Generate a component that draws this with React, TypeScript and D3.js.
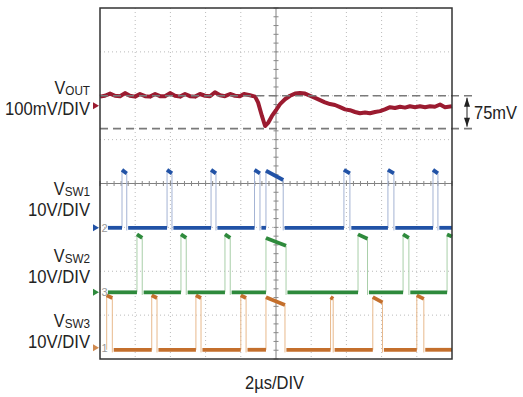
import * as d3 from "d3";

// scope grid: 10 DIV across at 2µs/DIV, 8 DIV tall
const TIME_US = [0, 20];
const DIVS = [-4, 4];

// channel ground markers, in DIV from centre
const VOUT_OFFSET = 1.77;
const SW1_OFFSET = -1.01;
const SW2_OFFSET = -2.48;
const SW3_OFFSET = -3.79;

// VOUT trace, [µs, mV] (100mV/DIV)
const VOUT = [
  [0, 21], [0.28, 23], [0.57, 28], [0.85, 23], [1.14, 22], [1.42, 29], [1.7, 23], [1.99, 21],
  [2.27, 27], [2.56, 22], [2.84, 21], [3.13, 27], [3.41, 22], [3.69, 22], [3.98, 29], [4.26, 23],
  [4.55, 21], [4.83, 27], [5.11, 22], [5.4, 21], [5.68, 27], [5.97, 23], [6.25, 22], [6.53, 31],
  [6.82, 24], [7.1, 22], [7.39, 27], [7.67, 23], [7.95, 22], [8.18, 27], [8.52, 24], [8.81, 21],
  [8.98, 8], [9.2, -23], [9.38, -46], [9.55, -39], [9.77, -23], [10.0, -10], [10.23, 4], [10.51, 15],
  [10.8, 23], [11.08, 28], [11.36, 29], [11.65, 28], [11.93, 23], [12.22, 18], [12.5, 13], [12.78, 8],
  [13.07, 4], [13.35, 2], [13.64, -3], [13.92, -8], [14.2, -10], [14.49, -14], [14.77, -17], [15.06, -15],
  [15.34, -17], [15.63, -14], [15.91, -12], [16.19, -8], [16.48, -3], [16.76, -5], [17.05, -2], [17.33, -4],
  [17.61, -1], [17.9, -3], [18.18, -1], [18.47, -3], [18.75, -1], [19.03, -2], [19.32, 3], [19.6, -3],
  [20, -1],
];
const VOUT_CURSORS = [23, -52]; // mV, 75mV apart

// switch node pulses: [rise µs, fall µs, V at rise, V at fall] (10V/DIV)
const SW1_PULSES = [
  [1.25, 1.52, 13.2, 12.4], [3.81, 4.09, 13.2, 12.4], [6.31, 6.59, 13.2, 12.4], [8.78, 9.09, 13.2, 12.4],
  [9.43, 10.41, 13, 10.9], [13.86, 14.2, 13.2, 12.4], [16.36, 16.7, 13.2, 12.4], [18.92, 19.2, 13.2, 12.4],
];
const SW2_PULSES = [
  [2.1, 2.4, 13.2, 12.4], [4.6, 4.9, 13.2, 12.4], [7.1, 7.4, 13.2, 12.4], [9.43, 10.57, 12.4, 10.6],
  [14.66, 15.2, 13.2, 12.2], [17.22, 17.55, 13.2, 12.4], [19.72, 20.2, 13.2, 12.4],
];
const SW3_PULSES = [
  [0.38, 0.7, 12.4, 11.8], [2.94, 3.24, 12.4, 11.8], [5.45, 5.74, 12.4, 11.8], [8.0, 8.3, 12.4, 11.8],
  [9.43, 10.51, 12, 10.2], [13.1, 13.25, 12, 11.6], [15.5, 16.05, 12, 10.8], [18.0, 18.4, 12.4, 11.6],
];
const TRACE_START_US = 0.45; // traces begin right of the channel number

const W = 523;
const H = 397;
const L = 100, T = 8, R = 452, B = 359;
const FONT = "'Liberation Sans Narrow', 'Liberation Sans', Arial, sans-serif";

const x = d3.scaleLinear().domain(TIME_US).range([L, R]);
const y = d3.scaleLinear().domain(DIVS).range([B, T]);
const yVout = (mv) => y(VOUT_OFFSET + mv / 100);

function Switch({ pulses, offset, color, edge }) {
  const yv = (v) => y(offset + v / 10);
  const lows = [];
  let t0 = TRACE_START_US;
  pulses.forEach((p) => {
    if (p[0] > t0) lows.push([t0, p[0]]);
    t0 = p[1] + 0.08;
  });
  if (t0 < 20) lows.push([t0, 20]);
  const clip = (t) => Math.max(0, Math.min(20, t));
  return (
    <g>
      {pulses.map((p, i) => (
        <g key={i}>
          <line x1={x(p[0])} x2={x(p[0])} y1={yv(0)} y2={yv(p[2])} stroke={edge} strokeWidth={1} />
          {p[1] <= 20 && (
            <line x1={x(p[1])} x2={x(p[1])} y1={yv(p[3])} y2={yv(-0.6)} stroke={edge} strokeWidth={1} />
          )}
          <line x1={x(clip(p[0]))} x2={x(clip(p[1]))} y1={yv(p[2])}
            y2={yv(p[1] > 20 ? p[2] + ((p[3] - p[2]) * (20 - p[0])) / (p[1] - p[0]) : p[3])}
            stroke={color} strokeWidth={3.8} />
        </g>
      ))}
      {lows.map((s, i) => (
        <line key={"l" + i} x1={x(s[0])} x2={x(s[1])} y1={yv(0)} y2={yv(0)} stroke={color} strokeWidth={3.8} />
      ))}
    </g>
  );
}

function Marker({ yPos, color, label }) {
  return (
    <g>
      <path d={`M93,${yPos - 3.5} L99,${yPos} L93,${yPos + 3.5} Z`} fill={color} />
      {label && (
        <text x={101.5} y={yPos + 4} fontSize={11} fill="#999" fontFamily={FONT}>{label}</text>
      )}
    </g>
  );
}

function Label({ sub, scale, yName, yScale, width }) {
  return (
    <g fontFamily={FONT} fill="#222" textAnchor="end">
      <g transform="translate(90,0) scale(0.9,1) translate(-90,0)">
        <text x={90} y={yName} fontSize={18}>
          V<tspan fontSize={13} dy={1}>{sub}</tspan>
        </text>
      </g>
      <text x={90} y={yScale} fontSize={18} textLength={width} lengthAdjust="spacingAndGlyphs">{scale}</text>
    </g>
  );
}

export default function App() {
  const vx = d3.range(1, 10).map((i) => x(i * 2));
  const hy = d3.range(-3, 4).map((i) => y(i));
  const minorX = d3.range(0, 50.01).map((i) => x(i * 0.4));
  const minorY = d3.range(-20, 20.01).map((i) => y(i * 0.2));
  const line = d3.line().x((d) => x(d[0])).y((d) => yVout(d[1]));
  const ay1 = yVout(VOUT_CURSORS[0]);
  const ay2 = yVout(VOUT_CURSORS[1]);
  const ax = 467;

  return (
    <svg width={W} height={H} style={{ position: "absolute", left: 0, top: 0, background: "#fff" }}>
      <rect x={0} y={0} width={W} height={H} fill="#fff" />
      {/* grid */}
      {vx.map((v, i) => i !== 4 && (
        <line key={"gx" + i} x1={v} x2={v} y1={T} y2={B} stroke="#bbb" strokeWidth={1} strokeDasharray="1,3" />
      ))}
      {hy.map((v, i) => i !== 3 && (
        <line key={"gy" + i} x1={L} x2={R} y1={v} y2={v} stroke="#bbb" strokeWidth={1} strokeDasharray="1,3" />
      ))}
      <line x1={x(10)} x2={x(10)} y1={T} y2={B} stroke="#808080" strokeWidth={1} />
      <line x1={L} x2={R} y1={y(0)} y2={y(0)} stroke="#808080" strokeWidth={1} />
      {minorX.map((v, i) => (
        <line key={"mx" + i} x1={v} x2={v} y1={y(0) - 2.5} y2={y(0) + 2.5} stroke="#888" strokeWidth={1} />
      ))}
      {minorY.map((v, i) => (
        <line key={"my" + i} x1={x(10) - 2.5} x2={x(10) + 2.5} y1={v} y2={v} stroke="#888" strokeWidth={1} />
      ))}

      {/* switch nodes */}
      <Switch pulses={SW3_PULSES} offset={SW3_OFFSET} color="#c46f2c" edge="#e8b98c" />
      <Switch pulses={SW2_PULSES} offset={SW2_OFFSET} color="#2e8a3c" edge="#a9cfa9" />
      <Switch pulses={SW1_PULSES} offset={SW1_OFFSET} color="#2152a6" edge="#a4b3d4" />

      {/* VOUT */}
      <path d={line(VOUT)} fill="none" stroke="#9b1b30" strokeWidth={4} strokeLinejoin="round" />

      {/* 75mV cursors */}
      {VOUT_CURSORS.map((mv, i) => (
        <line key={"c" + i} x1={L} x2={477} y1={yVout(mv)} y2={yVout(mv)} stroke="#7a7a7a" strokeWidth={1.6} strokeDasharray="8,5" />
      ))}
      <line x1={ax} x2={ax} y1={ay1 + 2} y2={ay2 - 2} stroke="#222" strokeWidth={1} />
      <path d={`M${ax},${ay1 + 2} L${ax - 3},${ay1 + 11} L${ax + 3},${ay1 + 11} Z`} fill="#222" />
      <path d={`M${ax},${ay2 - 2} L${ax - 3},${ay2 - 11} L${ax + 3},${ay2 - 11} Z`} fill="#222" />
      <text x={474} y={(ay1 + ay2) / 2 + 6.5} fontSize={18} fontFamily={FONT} fill="#222"
        textLength={43} lengthAdjust="spacingAndGlyphs">75mV</text>

      {/* frame */}
      <rect x={L} y={T} width={R - L} height={B - T} fill="none" stroke="#333" strokeWidth={1.5} />

      {/* channel markers */}
      <Marker yPos={yVout(0)} color="#9b1b30" />
      <Marker yPos={y(SW1_OFFSET)} color="#2152a6" label="2" />
      <Marker yPos={y(SW2_OFFSET)} color="#2e8a3c" label="3" />
      <Marker yPos={y(SW3_OFFSET) - 2} color="#d08a50" label="1" />

      {/* labels */}
      <Label sub="OUT" scale="100mV/DIV" yName={94} yScale={115} width={85} />
      <Label sub="SW1" scale="10V/DIV" yName={195} yScale={216} width={62} />
      <Label sub="SW2" scale="10V/DIV" yName={262} yScale={283} width={62} />
      <Label sub="SW3" scale="10V/DIV" yName={327} yScale={348} width={62} />

      <text x={245} y={389} fontSize={18} fontFamily={FONT} fill="#222"
        textLength={59} lengthAdjust="spacingAndGlyphs">2µs/DIV</text>
    </svg>
  );
}
